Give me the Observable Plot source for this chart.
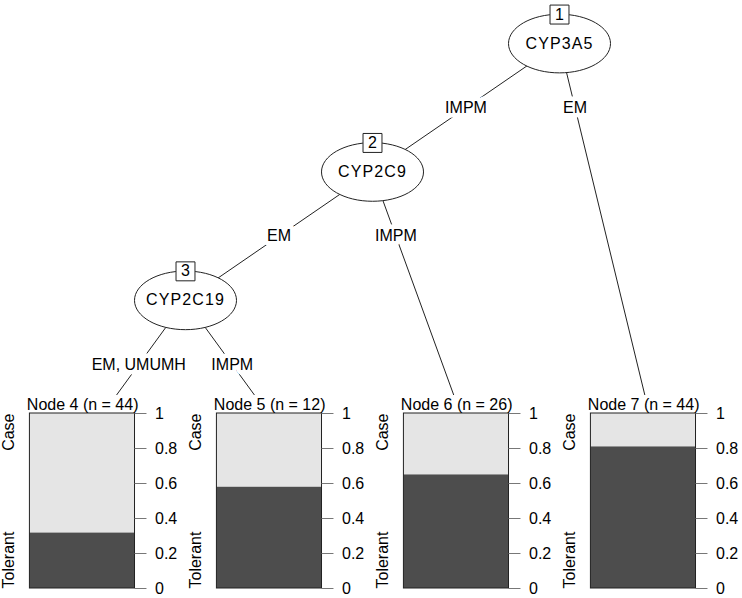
<!DOCTYPE html>
<html><head><meta charset="utf-8">
<script src="https://cdn.jsdelivr.net/npm/d3@7"></script>
<script src="https://cdn.jsdelivr.net/npm/@observablehq/plot@0.6"></script>
<style>html,body{margin:0;padding:0;background:#fff} svg{display:block} .wide text{letter-spacing:1.1px}</style>
</head><body><div id="chart"></div>
<script>
// ---- data ----
const innerIds = [1, 2, 3];
const innerVars = ["CYP3A5", "CYP2C9", "CYP2C19"];
const edgeFrom = [1, 1, 2, 2, 3, 3];
const edgeTo = [2, 7, 3, 6, 4, 5];
const edgeLabels = ["IMPM", "EM", "EM", "IMPM", "EM, UMUMH", "IMPM"];
const termIds = [4, 5, 6, 7];
const termN = [44, 12, 26, 44];
const termTolerant = [0.318, 0.58, 0.65, 0.81]; // share of "Tolerant"
const classes = ["Tolerant", "Case"];
const tickValues = [0, 0.2, 0.4, 0.6, 0.8, 1];
const tickLabels = ["0", "0.2", "0.4", "0.6", "0.8", "1"];

// ---- tree layout (party-style, native units: one unit per terminal) ----
const kids = {};
edgeFrom.forEach((f, i) => { (kids[f] = kids[f] || []).push(edgeTo[i]); });
const nterm = id => kids[id] ? d3.sum(kids[id], nterm) : 1;
const pos = {};
function place(id, xlim, depth) {
  if (!kids[id]) { pos[id] = {x: (xlim[0] + xlim[1]) / 2, depth: 3}; return; }
  const [l, r] = kids[id];
  const nl = nterm(l), nr = nterm(r);
  const x0 = xlim[0] + nl / (nl + nr) * (xlim[1] - xlim[0]);
  pos[id] = {x: x0, depth};
  place(l, [xlim[0], x0], depth + 1);
  place(r, [x0, xlim[1]], depth + 1);
}
place(1, [0, nterm(1)], 0);
// vertical: tree levels expressed in the bar-proportion scale
const levelTop = 3.114, levelStep = 0.7337;
const levelY = d => levelTop - levelStep * d;

const edges = edgeFrom.map((f, i) => {
  const a = pos[f], b = pos[edgeTo[i]];
  const y1 = levelY(a.depth), y2 = levelY(b.depth);
  const yl = levelY(a.depth + 0.5);
  const t = (yl - y1) / (y2 - y1);
  return {x1: a.x, y1, x2: b.x, y2, lx: a.x + t * (b.x - a.x), ly: yl, label: edgeLabels[i]};
});
const inner = innerIds.map((id, i) => ({id, name: innerVars[i], x: pos[id].x, y: levelY(pos[id].depth)}));

// terminal panel geometry (native x units)
const boxL = -0.332, boxR = 0.230;
const terms = termIds.map((id, i) => {
  const c = pos[id].x;
  return {id, c, l: c + boxL, r: c + boxR, tol: termTolerant[i], n: termN[i]};
});
const segs = terms.flatMap(t => [
  {x1: t.l, x2: t.r, y1: 0, y2: t.tol, cls: classes[0]},
  {x1: t.l, x2: t.r, y1: t.tol, y2: 1, cls: classes[1]}
]);
const tickRows = terms.flatMap(t => tickValues.map((v, j) => ({x1: t.r, x2: t.r + 0.064, lx: t.r + 0.107, y: v, label: tickLabels[j]})));
const lowLabels = terms.map(t => ({x: t.l - 0.112, y: 0, text: classes[0]}));
const highLabels = terms.map(t => ({x: t.l - 0.112, y: 1, text: classes[1]}));

// ellipse symbol
const ellipse = {
  draw(ctx, size) {
    const rx = Math.sqrt(size / Math.PI), ry = rx * 0.575, k = 0.5522847498;
    ctx.moveTo(rx, 0);
    ctx.bezierCurveTo(rx, ry * k, rx * k, ry, 0, ry);
    ctx.bezierCurveTo(-rx * k, ry, -rx, ry * k, -rx, 0);
    ctx.bezierCurveTo(-rx, -ry * k, -rx * k, -ry, 0, -ry);
    ctx.bezierCurveTo(rx * k, -ry, rx, -ry * k, rx, 0);
    ctx.closePath();
  }
};

const font = "'Liberation Sans', Arial, Helvetica, sans-serif";
const chart = Plot.plot({
  width: 742, height: 598, margin: 0,
  style: {fontFamily: font, fontSize: "16px", background: "white"},
  x: {domain: [0, 4], range: [-2, 746], axis: null},
  y: {domain: [0, 1], range: [588, 413], axis: null},
  color: {domain: classes, range: ["#4d4d4d", "#e5e5e5"]},
  marks: [
    Plot.link(edges, {x1: "x1", y1: "y1", x2: "x2", y2: "y2", stroke: "#222", strokeWidth: 1}),
    Plot.rect(terms, {x1: d => d.c - 0.5, x2: d => d.c + 0.5, y1: -0.1, y2: 1.103, fill: "white"}),
    Plot.text(edges, {x: "lx", y: "ly", text: "label", fill: "black", stroke: "white", strokeWidth: 9, fontSize: 16}),
    Plot.dot(inner, {x: "x", y: "y", r: 51, symbol: ellipse, fill: "white", stroke: "#222", strokeWidth: 1}),
    Plot.text(inner, {x: "x", y: "y", text: "name", fill: "black", fontSize: 16, className: "wide"}),
    Plot.dot(inner, {x: "x", y: "y", dy: -29, r: 10.7, symbol: "square", fill: "white", stroke: "#222", strokeWidth: 1}),
    Plot.text(inner, {x: "x", y: "y", dy: -29, text: d => String(d.id), fill: "black", fontSize: 16}),
    Plot.rect(segs, {x1: "x1", x2: "x2", y1: "y1", y2: "y2", fill: "cls"}),
    Plot.rect(terms, {x1: "l", x2: "r", y1: 0, y2: 1, fill: "none", stroke: "#222", strokeWidth: 1}),
    Plot.ruleY(tickRows, {y: "y", x1: "x1", x2: "x2", stroke: "#777", strokeWidth: 1}),
    Plot.text(tickRows, {x: "lx", y: "y", text: "label", textAnchor: "start", fill: "black", fontSize: 16}),
    Plot.text(lowLabels, {x: "x", y: "y", text: "text", rotate: -90, textAnchor: "start", fill: "black", fontSize: 16}),
    Plot.text(highLabels, {x: "x", y: "y", text: "text", rotate: -90, textAnchor: "end", fill: "black", fontSize: 16}),
    Plot.text(terms, {x: d => d.c - 0.05, y: 1, dy: -4, lineAnchor: "bottom", text: d => `Node ${d.id} (n = ${d.n})`, fill: "black", fontSize: 16})
  ]
});
document.getElementById("chart").appendChild(chart);
</script>
</body></html>
